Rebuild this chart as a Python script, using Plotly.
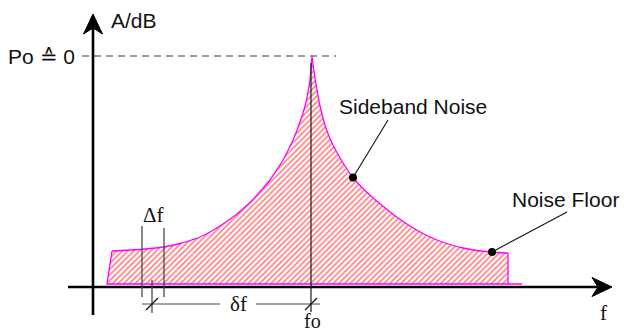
import plotly.graph_objects as go

# Phase-noise spectrum sketch (arbitrary frequency / level units,
# origin at the crossing of the two axes).
freq = [19, 37, 52, 70, 87, 97, 107, 117, 127, 135, 144, 152, 160, 168, 177,
        184, 190, 195, 200, 205, 210, 213, 215, 217, 218, 219,
        220, 221, 223, 225, 227, 230, 234, 239, 244, 251, 260, 269, 279,
        291, 303, 317, 330, 344, 357, 370, 384, 399, 415]
level = [36, 37, 38, 40, 43.5, 46.5, 50, 55, 61, 66.5, 73, 80, 87.5, 96.5, 107,
         117.5, 127, 136.5, 147, 159.5, 174, 185, 195, 207, 218, 231,
         223, 215.5, 203, 191.5, 181, 169, 156, 144, 134.5, 122.5, 109.5, 99.5, 90,
         80, 70.5, 61, 53.5, 47, 42.5, 39, 36.5, 35, 34]
area_start, area_end, area_base = 14, 415, 3

carrier_freq = 218          # f0
delta_band = [49, 71]       # measurement bandwidth Δf
offset_freq = 59            # centre of the Δf band, δf away from f0
peak_level = max(level)     # Po ≙ 0 dB
sideband_point = (260, 109.5)
floor_point = (399, 35)

SANS = "Liberation Sans, Arial, sans-serif"
SERIF = "Liberation Serif, Times New Roman, serif"
INK = "#111111"
GREY = "#4a4a4a"
MAGENTA = "#ff00ff"

fig = go.Figure()

# hatched noise area
area_x = [area_start] + freq + [area_end, area_start]
area_y = [area_base] + level + [area_base, area_base]
fig.add_trace(go.Scatter(
    x=area_x, y=area_y, mode="lines", line=dict(width=0, color=MAGENTA),
    fill="toself", fillcolor="white",
    fillpattern=dict(shape="/", fgcolor="#ff0000", bgcolor="#ffffff",
                     size=4, solidity=0.42),
    hoverinfo="skip"))

# magenta outline: smooth spectrum curve plus straight edges
fig.add_trace(go.Scatter(x=freq, y=level, mode="lines",
                         line=dict(color=MAGENTA, width=1.3, shape="spline", smoothing=0.5),
                         hoverinfo="skip"))
fig.add_trace(go.Scatter(x=[freq[0], area_start, 429],
                         y=[level[0], area_base, area_base], mode="lines",
                         line=dict(color=MAGENTA, width=1.3), hoverinfo="skip"))
fig.add_trace(go.Scatter(x=[area_end, area_end], y=[level[-1], area_base], mode="lines",
                         line=dict(color=MAGENTA, width=1.3), hoverinfo="skip"))

# callout dots
fig.add_trace(go.Scatter(
    x=[sideband_point[0], floor_point[0]], y=[sideband_point[1], floor_point[1]],
    mode="markers", marker=dict(color="black", size=8), hoverinfo="skip"))

shapes = []


def seg(x0, y0, x1, y1, color=INK, width=1.0, dash=None):
    shapes.append(dict(type="line", xref="x", yref="y", x0=x0, y0=y0, x1=x1, y1=y1,
                       line=dict(color=color, width=width, dash=dash)))


# reference level
seg(-11, peak_level, 243, peak_level, color="#7a7a7a", width=1.6, dash="7px,5px")

# axes
seg(0, -28, 0, 262, color="black", width=2.6)
seg(-25, 0, 508, 0, color="black", width=2.6)
shapes.append(dict(type="path", xref="x", yref="y",
                   path="M 0 273 L -9.5 253 L 0 259 L 9.5 253 Z",
                   fillcolor="black", line=dict(color="black", width=1)))
shapes.append(dict(type="path", xref="x", yref="y",
                   path="M 519 0 L 499 9.5 L 505 0 L 499 -9.5 Z",
                   fillcolor="black", line=dict(color="black", width=1)))

# carrier line
seg(carrier_freq, 224, carrier_freq, -25, color="#1a1a1a", width=1.2)

# Δf band markers
seg(delta_band[0], 61, delta_band[0], -10, color=GREY, width=1.3)
seg(delta_band[1], 59, delta_band[1], -10, color=GREY, width=1.3)
seg(offset_freq, 7, offset_freq, -26, color=GREY, width=1.3)

# δf dimension line
seg(delta_band[0], -17, 127, -17, color=GREY, width=1.2)
seg(163, -17, carrier_freq + 9, -17, color=GREY, width=1.2)
for fx in (offset_freq, carrier_freq):
    seg(fx - 6, -23, fx + 6, -11, color=INK, width=1.2)

# callout leaders
seg(295, 167, sideband_point[0], sideband_point[1], color=INK, width=1.1)
seg(474, 75, floor_point[0], floor_point[1], color=INK, width=1.1)

annotations = [
    dict(x=41, y=267, text="A/dB", xanchor="center", yanchor="middle",
         font=dict(family=SANS, size=21, color=INK)),
    dict(x=-16, y=peak_level, text="Po ≙ 0", xanchor="right", yanchor="middle",
         font=dict(family=SANS, size=21, color=INK)),
    dict(x=244, y=181, text="Sideband Noise", xanchor="left", yanchor="middle",
         font=dict(family=SANS, size=21, color=INK)),
    dict(x=417, y=88, text="Noise Floor", xanchor="left", yanchor="middle",
         font=dict(family=SANS, size=21, color=INK)),
    dict(x=60, y=72, text="Δf", xanchor="center", yanchor="middle",
         font=dict(family=SERIF, size=21, color=INK)),
    dict(x=145, y=-17, text="δf", xanchor="center", yanchor="middle",
         font=dict(family=SERIF, size=21, color=INK)),
    dict(x=carrier_freq + 1, y=-46.5, text="fo", xanchor="center", yanchor="bottom",
         font=dict(family=SERIF, size=20, color=INK)),
    dict(x=510, y=-26, text="f", xanchor="center", yanchor="middle",
         font=dict(family=SERIF, size=21, color=INK)),
]
for a in annotations:
    a.update(xref="x", yref="y", showarrow=False)

fig.update_layout(
    width=624, height=334,
    margin=dict(l=0, r=0, t=0, b=0),
    paper_bgcolor="white", plot_bgcolor="white",
    showlegend=False,
    xaxis=dict(range=[-93, 531], visible=False, fixedrange=True),
    yaxis=dict(range=[-47, 287], visible=False, fixedrange=True),
    shapes=shapes, annotations=annotations,
)

fig.write_html("out.html")
